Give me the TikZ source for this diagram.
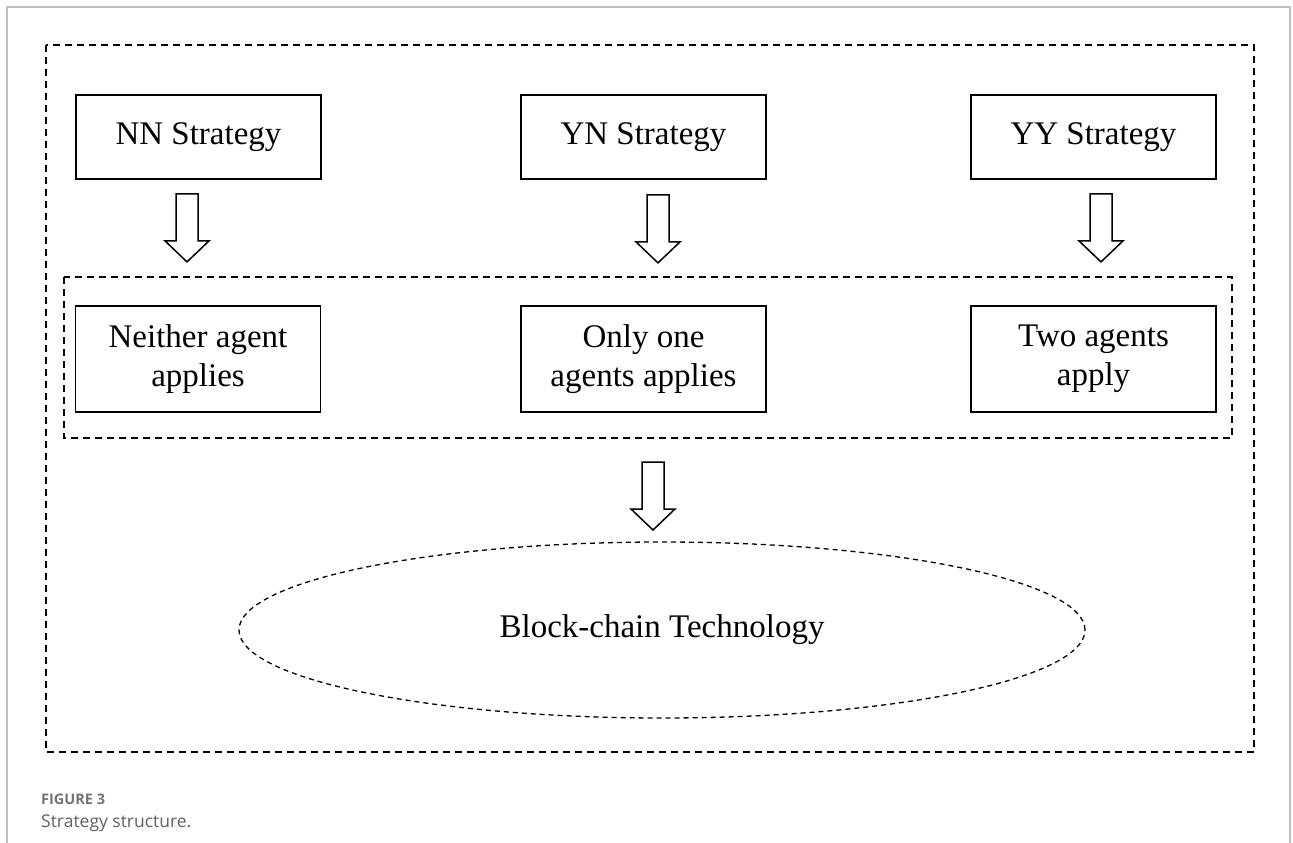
\documentclass[tikz,border=0pt]{standalone}
\usepackage{fontspec}
\setmainfont{Liberation Serif}
\newfontfamily\capfont{Open Sans}
\usetikzlibrary{shapes.geometric}
\begin{document}
\begin{tikzpicture}[x=1pt,y=-1pt,
  box/.style={draw, line width=1.8pt, minimum width=245pt, minimum height=84pt,
    inner sep=0pt, align=center, font=\fontsize{33}{39}\selectfont},
  dashframe/.style={draw, line width=1.6pt, dash pattern=on 7pt off 5pt},
  blockarrow/.style={draw, line width=1.5pt, line join=miter, fill=white},
  downarrow/.pic={\draw[blockarrow] (-11,0) -- (11,0) -- (11,47) -- (22,47)
    -- (0,68) -- (-22,47) -- (-11,47) -- cycle;},
]
\useasboundingbox (0,0) rectangle (1293,843);
\fill[white] (0,0) rectangle (1293,843);

% page frame
\draw[black!25, line width=1.5pt] (7,843) -- (7,7) -- (1290,7) -- (1290,843);

% outer and middle dashed frames
\draw[dashframe] (46,45) rectangle (1254,752);
\draw[dashframe] (64,277) rectangle (1232,438);

% strategies
\node[box] (nn) at (198.5,137) {NN Strategy};
\node[box] (yn) at (643.5,137) {YN Strategy};
\node[box] (yy) at (1093.5,137) {YY Strategy};

% outcomes
\node[box, minimum height=106pt] (naa) at (198,359) {Neither agent\\applies};
\node[box, minimum height=106pt] (one) at (643.5,359) {Only one\\agents applies};
\node[box, minimum height=106pt] (two) at (1093.5,359) {Two agents\\apply};

% technology
\node[ellipse, draw, line width=1.3pt, dash pattern=on 5pt off 4pt,
  minimum width=846pt, minimum height=176pt, inner sep=0pt,
  font=\fontsize{33}{39}\selectfont] (bc) at (662,630) {Block-chain Technology};

% block arrows
\path (nn.south)  ++(-11.5,14) coordinate (a1);
\path (yn.south)  ++(14.5,15)  coordinate (a2);
\path (yy.south)  ++(7.5,14)   coordinate (a3);
\coordinate (a4) at (653,462);
\pic at (a1) {downarrow};
\pic at (a2) {downarrow};
\pic at (a3) {downarrow};
\pic at (a4) {downarrow};

% caption
\node[anchor=base west, inner sep=0pt, font=\capfont\bfseries\fontsize{14.5}{17}\selectfont,
  text=black!55] (figlabel) at (41,804) {FIGURE 3};
\node[anchor=base west, inner sep=0pt, font=\capfont\fontsize{17.5}{21}\selectfont,
  text=black!62] (figtitle) at (41,827) {Strategy structure.};
\end{tikzpicture}
\end{document}
